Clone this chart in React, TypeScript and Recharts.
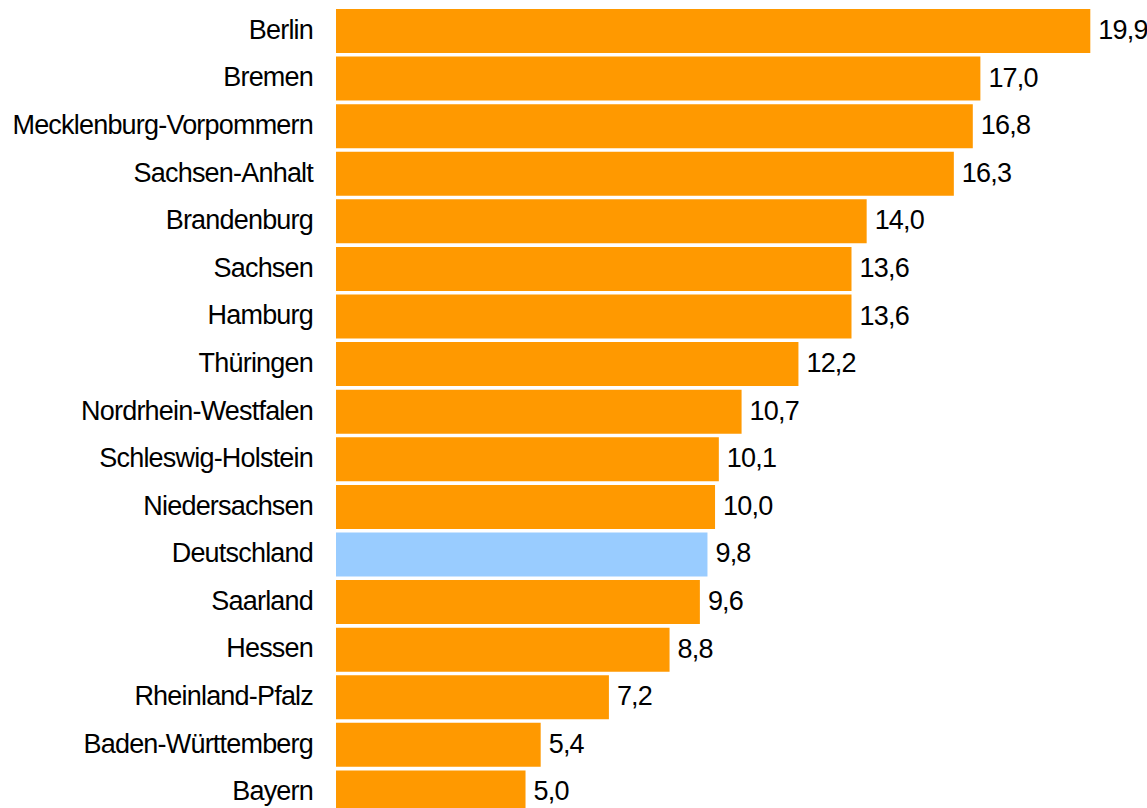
import React from 'react';
import { BarChart, Bar, XAxis, YAxis, Cell, LabelList } from 'recharts';

const states = [
  'Berlin',
  'Bremen',
  'Mecklenburg-Vorpommern',
  'Sachsen-Anhalt',
  'Brandenburg',
  'Sachsen',
  'Hamburg',
  'Thüringen',
  'Nordrhein-Westfalen',
  'Schleswig-Holstein',
  'Niedersachsen',
  'Deutschland',
  'Saarland',
  'Hessen',
  'Rheinland-Pfalz',
  'Baden-Württemberg',
  'Bayern',
];

const rates = [19.9, 17.0, 16.8, 16.3, 14.0, 13.6, 13.6, 12.2, 10.7, 10.1, 10.0, 9.8, 9.6, 8.8, 7.2, 5.4, 5.0];

const highlight = 'Deutschland';

const data = states.map((name, i) => ({ name, value: rates[i] }));

const font = '"Liberation Sans", Arial, sans-serif';

const StateTick = (props: any) => {
  const { x, y, payload } = props;
  return (
    <text
      x={x}
      y={y}
      dy={8}
      textAnchor="end"
      fill="#000"
      fontSize={27}
      letterSpacing={-0.8}
      fontFamily={font}
    >
      {payload.value}
    </text>
  );
};

const ValueLabel = (props: any) => {
  const { x, y, width, height, value } = props;
  return (
    <text
      x={x + width + 8}
      y={y + height / 2}
      dy={8}
      textAnchor="start"
      fill="#000"
      fontSize={27}
      letterSpacing={-0.8}
      fontFamily={font}
    >
      {Number(value).toFixed(1).replace('.', ',')}
    </text>
  );
};

const App: React.FC = () => {
  return (
    <div style={{ position: 'absolute', left: 0, top: 0, width: 1147, height: 808, overflow: 'hidden', background: '#fff' }}>
      <BarChart
        width={1147}
        height={816}
        data={data}
        layout="vertical"
        margin={{ top: 7, right: 15, bottom: 0, left: 0 }}
        barCategoryGap={2}
      >
        <XAxis type="number" domain={[0, 21]} hide />
        <YAxis
          type="category"
          dataKey="name"
          width={336}
          axisLine={false}
          tickLine={false}
          tickSize={0}
          tickMargin={23}
          interval={0}
          tick={<StateTick />}
        />
        <Bar dataKey="value" isAnimationActive={false}>
          {data.map((d) => (
            <Cell key={d.name} fill={d.name === highlight ? '#99CCFF' : '#FF9900'} />
          ))}
          <LabelList dataKey="value" content={<ValueLabel />} />
        </Bar>
      </BarChart>
    </div>
  );
};

export default App;
